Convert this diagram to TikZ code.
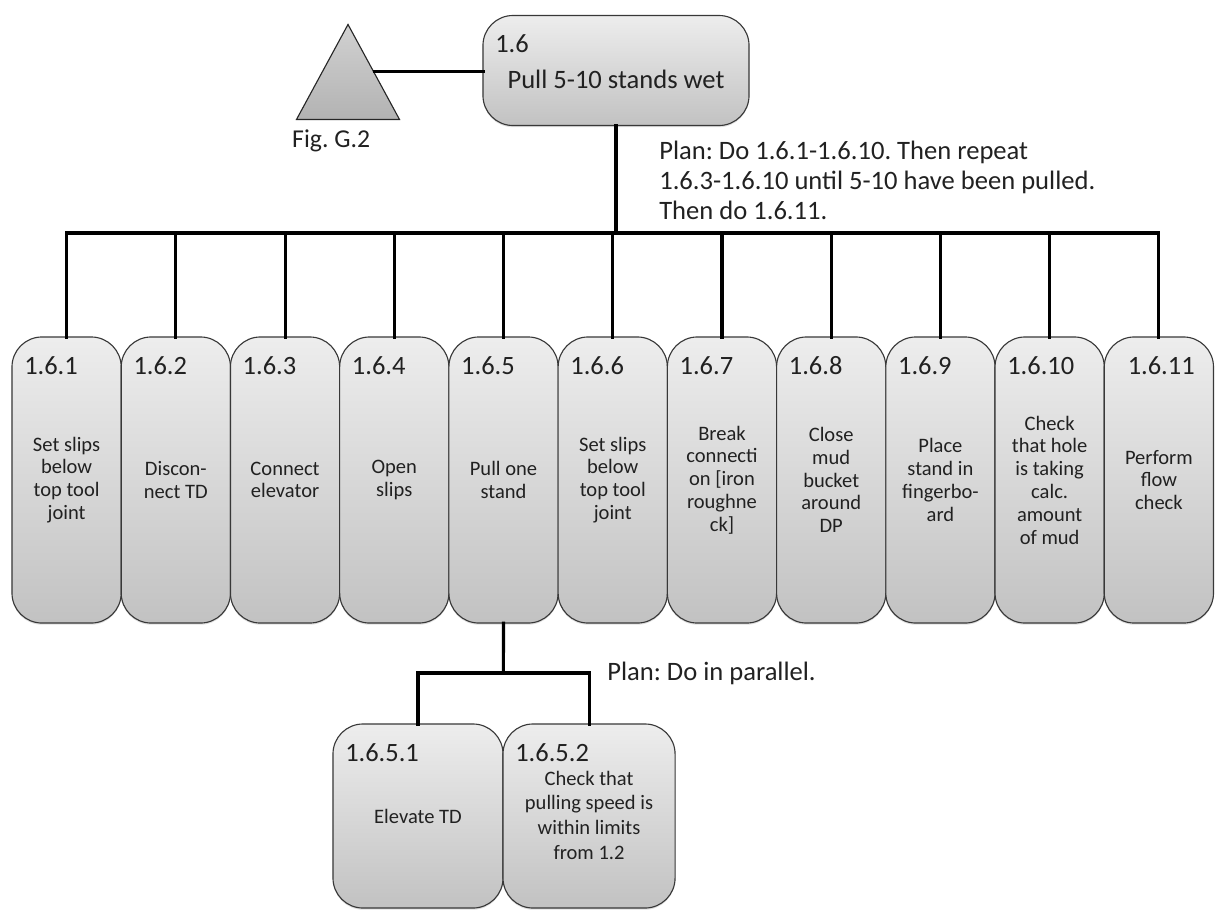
\documentclass[tikz,border=0pt]{standalone}
\usepackage{fontspec}
\setmainfont{Carlito}
\usepackage{tikz}
\usetikzlibrary{positioning, shapes.geometric, shadows}
\definecolor{boxtop}{rgb}{0.93,0.93,0.93}
\definecolor{boxbottom}{rgb}{0.76,0.76,0.76}
\definecolor{boxline}{rgb}{0.22,0.22,0.22}
\definecolor{inktext}{rgb}{0.13,0.13,0.13}
\frenchspacing

\begin{document}
\begin{tikzpicture}[
  x=0.025cm, y=-0.025cm,
  box/.style      = {draw=boxline, line width=0.8pt, rounded corners=0.75cm,
                     top color=boxtop, bottom color=boxbottom, outer sep=0pt,
                     align=center, inner sep=2pt, text=inktext,
                     drop shadow={opacity=0.25, shadow xshift=0pt, shadow yshift=-1.2pt}},
  numlabel/.style = {anchor=north west, inner sep=0pt, xshift=0.3cm, yshift=-0.475cm,
                     font=\fontsize{18.8}{22}\selectfont, text=inktext},
  num/.style      = {label={[numlabel]north west:#1}},
  topbox/.style   = {box, minimum width=6.65cm, minimum height=2.75cm},
  taskbox/.style  = {box, minimum width=2.73cm, minimum height=7.15cm,
                     font=\fontsize{14.6}{16.2}\selectfont},
  subbox/.style   = {box, minimum height=4.6cm, font=\fontsize{14.6}{17.5}\selectfont},
  figtri/.style   = {isosceles triangle, isosceles triangle stretches, shape border rotate=90,
                     minimum width=2.575cm, minimum height=2.375cm, inner sep=0pt,
                     draw=black!85, line width=0.8pt, top color=black!18, bottom color=black!30},
  plan/.style     = {inner sep=0pt, align=left, text=inktext,
                     font=\fontsize{18.9}{21.3}\selectfont},
  link/.style     = {line width=2.2pt, draw=black, line cap=rect},
]
\useasboundingbox (0,0) rectangle (1215,909);

%% ==================== TOP: TASK 1.6 ====================
\node[topbox, num=1.6] (top) at (616,70.5) {};
\node[font=\fontsize{18.9}{22}\selectfont, text=inktext, inner sep=0pt] (toptext) at (616,79) {Pull 5-10 stands wet};

\node[figtri, anchor=apex] (fig) at (348,23) {};
\node[font=\fontsize{18.3}{22}\selectfont, text=inktext, inner sep=0pt,
      below=0.24cm of fig.lower side, xshift=-0.42cm] (figref) {Fig. G.2};

\draw[link] (fig.right side) -- (fig.right side -| top.west);

\node[plan, anchor=north west] (plan1) at (659,141)
      {Plan: Do 1.6.1-1.6.10. Then repeat\\1.6.3-1.6.10 until 5-10 have been pulled.\\Then do 1.6.11.};

%% ==================== ROW: SUBTASKS 1.6.1 - 1.6.11 ====================
\node[taskbox, num=1.6.1] (t1) at (66.6,480) {Set slips\\below\\top tool\\joint};
\node[taskbox, num=1.6.2, right=0pt of t1] (t2) {Discon-\\nect TD};
\node[taskbox, num=1.6.3, right=0pt of t2] (t3) {Connect\\elevator};
\node[taskbox, num=1.6.4, right=0pt of t3] (t4) {Open\\slips};
\node[taskbox, num=1.6.5, right=0pt of t4] (t5) {Pull one\\stand};
\node[taskbox, num=1.6.6, right=0pt of t5] (t6) {Set slips\\below\\top tool\\joint};
\node[taskbox, num=1.6.7, right=0pt of t6] (t7) {Break\\connecti\\on [iron\\roughne\\ck]};
\node[taskbox, num=1.6.8, right=0pt of t7] (t8) {Close\\mud\\bucket\\around\\DP};
\node[taskbox, num=1.6.9, right=0pt of t8] (t9) {Place\\stand in\\fingerbo-\\ard};
\node[taskbox, num=1.6.10, right=0pt of t9] (t10) {Check\\that hole\\is taking\\calc.\\amount\\of mud};
\node[taskbox, label={[numlabel, xshift=0.28cm]north west:1.6.11}, right=0pt of t10] (t11) {Perform\\flow\\check};

%% Tree connectors
\coordinate (hub) at (616,233);
\draw[link] (top.south) -- (hub);
\draw[link] (t1.north)  |- (hub);
\draw[link] (t2.north)  |- (hub);
\draw[link] (t3.north)  |- (hub);
\draw[link] (t4.north)  |- (hub);
\draw[link] (t5.north)  |- (hub);
\draw[link] (t6.north)  |- (hub);
\draw[link] (t7.north)  |- (hub);
\draw[link] (t8.north)  |- (hub);
\draw[link] (t9.north)  |- (hub);
\draw[link] (t10.north) |- (hub);
\draw[link] (t11.north) |- (hub);

%% ==================== BOTTOM: 1.6.5 BREAKDOWN ====================
\node[subbox, num=1.6.5.1, minimum width=4.25cm] (s1) at (418,816) {Elevate TD};
\node[subbox, num=1.6.5.2, minimum width=4.3cm, right=0pt of s1] (s2)
      {\\[-0.3cm]Check that\\pulling speed is\\within limits\\from 1.2};

\coordinate (subhub) at (503.4,673);
\draw[link] (t5.south) -- (subhub);
\draw[link] (s1.north) |- (subhub);
\draw[link] (s2.north) |- (subhub);

\node[plan, anchor=west] (plan2) at (607,673) {Plan: Do in parallel.};

\end{tikzpicture}
\end{document}
